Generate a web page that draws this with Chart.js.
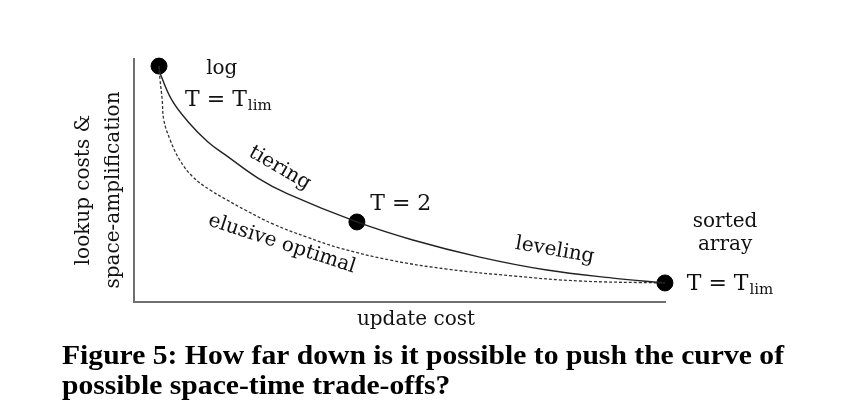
<!DOCTYPE html>
<html>
<head>
<meta charset="utf-8">
<script src="https://cdn.jsdelivr.net/npm/chart.js@4/dist/chart.umd.min.js"></script>
<style>
  html, body { margin: 0; padding: 0; background: #fff; }
  #chart { display: block; }
</style>
</head>
<body>
<canvas id="chart" width="859" height="417"></canvas>
<script>
// curve readings, in arbitrary cost units (0..100)
var tieringX  = [4.7, 4.9, 7.1, 10.2, 13.9, 17.5, 23.3, 28.9, 41.9, 52.4, 65.0, 77.6, 90.0, 99.8];
var tieringY  = [96.7, 93.9, 82.8, 73.8, 65.6, 59.8, 50.8, 44.3, 32.8, 25.4, 18.4, 13.1, 9.8, 7.8];
var optimalX  = [4.7, 4.9, 5.3, 5.6, 6.8, 8.6, 11.1, 14.3, 17.5, 20.9, 26.1, 32.5, 38.7, 48.1, 58.8, 71.2, 83.8, 99.8];
var optimalY  = [96.7, 91.0, 82.8, 74.6, 66.4, 58.2, 51.2, 45.9, 41.8, 37.7, 32.0, 26.6, 22.1, 17.2, 13.5, 10.7, 8.6, 7.8];
var markerX   = [4.7, 41.9, 99.8];
var markerY   = [96.7, 32.8, 7.8];

var xTitle = 'update cost';
var yTitle = ['lookup costs &', 'space-amplification'];
var caption = ['Figure 5: How far down is it possible to push the curve of',
               'possible space-time trade-offs?'];

function toPoints(xs, ys) {
    var pts = [];
    for (var i = 0; i < xs.length; i++) pts.push({ x: xs[i], y: ys[i] });
    return pts;
}

var serif = '"DejaVu Serif", "Liberation Serif", serif';

// T = T_lim with a small subscript, x/y = left end of baseline
function drawTlim(ctx, x, y, size) {
    ctx.textAlign = 'left';
    ctx.textBaseline = 'alphabetic';
    ctx.font = size + 'px ' + serif;
    var main = 'T = T';
    ctx.fillText(main, x, y);
    var w = ctx.measureText(main).width;
    ctx.font = Math.round(size * 0.7) + 'px ' + serif;
    ctx.fillText('lim', x + w + 1, y + 4);
}

var textPlugin = {
    id: 'figText',
    beforeDatasetsDraw: function (chart) {
        var ctx = chart.ctx, a = chart.chartArea;
        ctx.save();
        ctx.strokeStyle = '#707070';
        ctx.lineWidth = 2;
        ctx.beginPath();
        ctx.moveTo(a.left, a.top);
        ctx.lineTo(a.left, a.bottom);
        ctx.lineTo(a.right, a.bottom);
        ctx.stroke();
        ctx.restore();
    },
    afterDatasetsDraw: function (chart) {
        var ctx = chart.ctx;
        var sx = chart.scales.x, sy = chart.scales.y;
        function px(v) { return sx.getPixelForValue(v); }
        function py(v) { return sy.getPixelForValue(v); }
        ctx.save();
        ctx.fillStyle = '#111';

        // rotated curve labels, centred, anchored in data units
        var labels = [
            { t: 'tiering', x: 27.4, y: 54.9, r: 30 },
            { t: 'elusive optimal', x: 27.8, y: 23.8, r: 18 },
            { t: 'leveling', x: 79.1, y: 21.1, r: 10 }
        ];
        ctx.font = '20px ' + serif;
        ctx.textAlign = 'center';
        ctx.textBaseline = 'middle';
        labels.forEach(function (l) {
            ctx.save();
            ctx.translate(px(l.x), py(l.y));
            ctx.rotate(l.r * Math.PI / 180);
            ctx.fillText(l.t, 0, 0);
            ctx.restore();
        });

        // plain labels, baseline anchored
        ctx.textBaseline = 'alphabetic';
        ctx.fillText('log', px(16.5), py(93.4));
        ctx.fillText('sorted', px(111.1), py(30.7));
        ctx.fillText('array', px(111.1), py(21.3));

        ctx.textAlign = 'left';
        ctx.font = '22px ' + serif;
        ctx.fillText('T = 2', px(44.4), py(37.7));
        drawTlim(ctx, px(9.6), py(80.3), 22);
        drawTlim(ctx, px(103.9), py(4.9), 22);

        // axis titles
        ctx.textAlign = 'center';
        ctx.font = '20px ' + serif;
        ctx.fillText(xTitle, 416, 325);
        ctx.save();
        ctx.translate(89, 190);
        ctx.rotate(-Math.PI / 2);
        ctx.fillText(yTitle[0], 0, 0);
        ctx.fillText(yTitle[1], 0, 30);
        ctx.restore();

        // caption, stretched to the original line width
        ctx.textAlign = 'left';
        ctx.fillStyle = '#000';
        ctx.font = 'bold 27px "Liberation Serif", serif';
        var k = 722 / ctx.measureText(caption[0]).width;
        ctx.save();
        ctx.translate(62, 0);
        ctx.scale(k, 1);
        ctx.fillText(caption[0], 0, 364);
        ctx.fillText(caption[1], 0, 394);
        ctx.restore();
        ctx.restore();
    }
};

var ctx = document.getElementById('chart').getContext('2d');
var chart = new Chart(ctx, {
    type: 'scatter',
    data: {
        datasets: [{
            label: 'tiering / leveling',
            data: toPoints(tieringX, tieringY),
            showLine: true,
            borderColor: '#222',
            borderWidth: 1.4,
            pointRadius: 0,
            tension: 0.4,
            clip: false
        }, {
            label: 'elusive optimal',
            data: toPoints(optimalX, optimalY),
            showLine: true,
            borderColor: '#333',
            borderWidth: 1.3,
            borderDash: [3, 2],
            pointRadius: 0,
            tension: 0.4,
            clip: false
        }, {
            label: 'T',
            data: toPoints(markerX, markerY),
            showLine: false,
            pointRadius: 8,
            pointBackgroundColor: '#000',
            pointBorderColor: '#000',
            clip: false
        }]
    },
    options: {
        responsive: false,
        animation: false,
        layout: { padding: { left: 134, top: 58, right: 193, bottom: 115 } },
        plugins: { legend: { display: false }, tooltip: { enabled: false } },
        scales: {
            x: { type: 'linear', min: 0, max: 100, display: false },
            y: { type: 'linear', min: 0, max: 100, display: false }
        }
    },
    plugins: [textPlugin]
});
</script>
</body>
</html>
